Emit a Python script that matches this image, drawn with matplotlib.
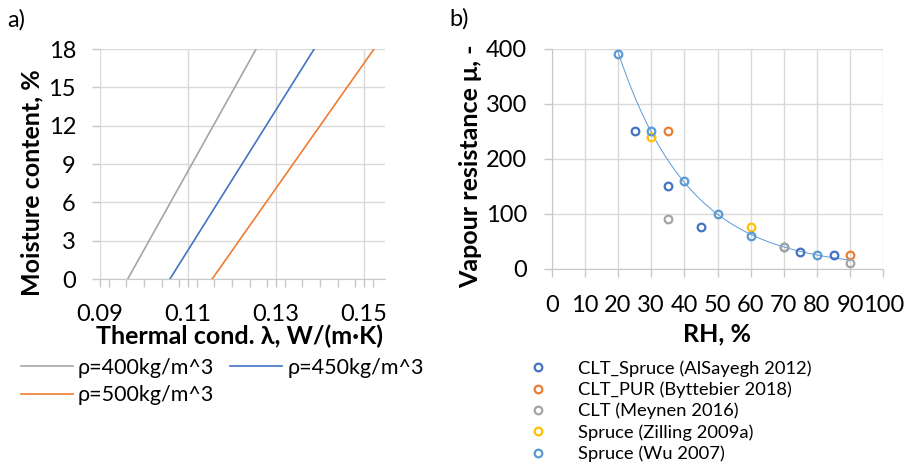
import numpy as np
import matplotlib
matplotlib.use('Agg')
from matplotlib import pyplot as plt
from matplotlib.ticker import MultipleLocator

plt.rcParams['font.family'] = ['Lato', 'DejaVu Sans']

# ==============================================================================
# Panel a) thermal conductivity vs moisture content
mc = [0, 18]
lam_400 = [0.0963, 0.1255]
lam_450 = [0.1059, 0.1387]
lam_500 = [0.1155, 0.1523]

# Panel b) vapour resistance vs RH
rh_alsayegh = [25, 35, 45, 75, 85]
mu_alsayegh = [250, 150, 75, 30, 25]
rh_byttebier = [35, 90]
mu_byttebier = [250, 25]
rh_meynen = [35, 70, 90]
mu_meynen = [90, 40, 10]
rh_zilling = [30, 60]
mu_zilling = [240, 75]
rh_wu = [20, 30, 40, 50, 60, 70, 80]
mu_wu = [390, 250, 160, 100, 60, 40, 25]
# ==============================================================================

GRID = '#D9D9D9'
AXIS = '#C8C8C8'
TICK_FS = 17
LABEL_FS = 18

fig = plt.figure(figsize=(9.06, 4.68), dpi=100)
W, H = 906, 468

def px_axes(l, t, r, b):
    return fig.add_axes([l / W, 1 - b / H, (r - l) / W, (b - t) / H])

def style(ax):
    for s in ['top', 'right']:
        ax.spines[s].set_visible(False)
    ax.spines['bottom'].set_color(AXIS)
    ax.spines['left'].set_color(AXIS)
    ax.tick_params(which='both', color=AXIS, length=5.5, width=1, labelsize=TICK_FS)
    ax.grid(True, which='major', color=GRID, lw=1)
    ax.set_axisbelow(True)

# ---------------- a)
ax1 = px_axes(100, 49, 385, 279)
style(ax1)
ax1.spines['left'].set_visible(False)
l400, = ax1.plot(lam_400, mc, color='#A5A5A5', lw=1.2, label='ρ=400kg/m^3')
l450, = ax1.plot(lam_450, mc, color='#4472C4', lw=1.2, label='ρ=450kg/m^3')
l500, = ax1.plot(lam_500, mc, color='#ED7D31', lw=1.2, label='ρ=500kg/m^3')
ax1.set_xlim(0.09, 0.1548)
ax1.set_ylim(0, 18)
ax1.set_xticks([0.09, 0.11, 0.13, 0.15])
ax1.set_xticklabels(['0.09', '0.11', '0.13', '0.15'])
ax1.xaxis.set_minor_locator(MultipleLocator(0.004))
ax1.set_yticks(np.arange(0, 19, 3))
ax1.tick_params(axis='x', which='major', pad=12.5)
ax1.tick_params(axis='y', pad=11.8)
ax1.set_xlabel('Thermal cond. λ, W/(m·K)', fontsize=LABEL_FS, fontweight='bold')
ax1.set_ylabel('Moisture content, %', fontsize=LABEL_FS, fontweight='bold')
ax1.xaxis.set_label_coords(0.49, -0.248)
ax1.xaxis.label.set_va('center')
ax1.yaxis.set_label_coords(-0.239, 0.417)
ax1.yaxis.label.set_va('center')

fig.legend(handles=[l400, l500, l450], ncol=2, loc='center left',
           bbox_to_anchor=(21 / W, 1 - 381.5 / H), frameon=False,
           fontsize=15.5, borderpad=0, borderaxespad=0, handlelength=2.42,
           handletextpad=0.23, columnspacing=0.74, labelspacing=0.35)

fig.text(7 / W, 1 - 20 / H, 'a)', fontsize=17, va='center', ha='left')

# ---------------- b)
ax2 = px_axes(551.7, 48.7, 883.3, 268.7)
style(ax2)
mk = dict(ls='none', marker='o', mfc='none', ms=5.5, mew=1.6)
p1, = ax2.plot(rh_alsayegh, mu_alsayegh, color='#4472C4', label='CLT_Spruce (AlSayegh 2012)', zorder=3, **mk)
p2, = ax2.plot(rh_byttebier, mu_byttebier, color='#ED7D31', label='CLT_PUR (Byttebier 2018)', zorder=3, **mk)
p3, = ax2.plot(rh_meynen, mu_meynen, color='#A5A5A5', label='CLT (Meynen 2016)', zorder=4, **mk)
p4, = ax2.plot(rh_zilling, mu_zilling, color='#FFC000', label='Spruce (Zilling 2009a)', zorder=2.5, **mk)
p5, = ax2.plot(rh_wu, mu_wu, color='#5B9BD5', label='Spruce (Wu 2007)', zorder=3, **mk)

# exponential trendline through the Wu data
fit = np.polyfit(rh_wu, np.log(mu_wu), 1)
rh_fit = np.linspace(min(rh_wu), 90, 200)
ax2.plot(rh_fit, np.exp(np.polyval(fit, rh_fit)), color='#5B9BD5', lw=0.7, zorder=2)

ax2.set_xlim(0, 100)
ax2.set_ylim(0, 400)
ax2.set_xticks(np.arange(0, 101, 10))
ax2.set_yticks(np.arange(0, 401, 100))
ax2.tick_params(axis='x', pad=13.3)
ax2.tick_params(axis='y', pad=12.3)
ax2.set_xlabel('RH, %', fontsize=LABEL_FS, fontweight='bold')
ax2.set_ylabel('Vapour resistance μ, -', fontsize=LABEL_FS, fontweight='bold')
ax2.xaxis.set_label_coords(0.4976, -0.297)
ax2.xaxis.label.set_va('center')
ax2.yaxis.set_label_coords(-0.244, 0.467)
ax2.yaxis.label.set_va('center')

fig.legend(handles=[p1, p2, p3, p4, p5], loc='center left',
           bbox_to_anchor=(527 / W, 1 - 411 / H), frameon=False,
           fontsize=13.2, borderpad=0, borderaxespad=0, handlelength=1.2,
           handletextpad=1.58, labelspacing=0.26)

fig.text(449 / W, 1 - 19 / H, 'b)', fontsize=17, va='center', ha='left')

fig.savefig('out.png', dpi=100)
